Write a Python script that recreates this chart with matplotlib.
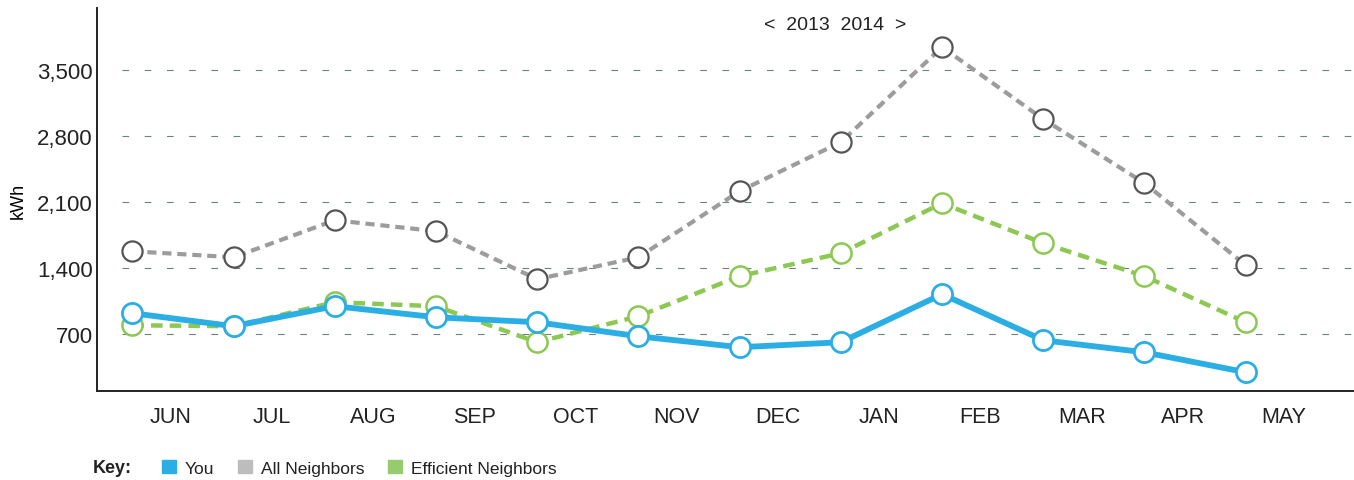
import matplotlib.pyplot as plt
import matplotlib as mpl
from matplotlib.patches import Patch

mpl.rcParams.update({
    "font.family": ["Liberation Sans", "DejaVu Sans"],
    "font.size": 14,
    "text.color": "#222222",
    "xtick.color": "#222222",
    "ytick.color": "#222222",
})

months = ["JUN", "JUL", "AUG", "SEP", "OCT", "NOV", "DEC", "JAN", "FEB", "MAR", "APR", "MAY"]
you = [916, 778, 991, 873, 820, 671, 555, 608, 1118, 629, 501, 289]
all_neighbors = [1574, 1510, 1903, 1787, 1277, 1510, 2212, 2732, 3741, 2977, 2297, 1426]
efficient = [788, 778, 1033, 990, 608, 884, 1309, 1553, 2084, 1659, 1309, 820]
yticks = [700, 1400, 2100, 2800, 3500]

BLUE = "#2aaee4"
GRAY = "#9c9c9c"
GREEN = "#8cc852"

fig = plt.figure(figsize=(13.54, 4.81), dpi=100)
ax = fig.add_axes([0.0716, 0.185, 0.9284, 0.796])

x = list(range(len(months)))
ax.set_xlim(-0.35, 12.07)
ax.set_ylim(90, 4155)

# dashed grid lines starting a little right of the axis
ax.hlines(yticks, -0.1, 12.07, colors="#6f8080", linewidth=0.8,
          linestyles=(0, (6, 14)), zorder=1)

ax.plot(x, all_neighbors, color=GRAY, lw=3, dashes=(2.2, 1.4),
        marker="o", ms=14.5, mfc="white", mec="#555555", mew=1.6, zorder=3)
ax.plot(x, efficient, color=GREEN, lw=3.2, dashes=(2.6, 1.6),
        marker="o", ms=14.5, mfc="white", mec=GREEN, mew=1.8, zorder=4)
ax.plot(x, you, color=BLUE, lw=4.2, solid_capstyle="round",
        marker="o", ms=14.5, mfc="white", mec=BLUE, mew=2, zorder=5)

ax.set_yticks(yticks)
ax.set_yticklabels([f"{v:,}" for v in yticks])
ax.set_xticks([i + 0.38 for i in x])
ax.set_xticklabels(months)
ax.tick_params(axis="both", length=0)
ax.tick_params(axis="y", labelsize=16, pad=3)
ax.tick_params(axis="x", labelsize=15.5, pad=11)
ax.set_ylabel("kWh", fontsize=13)
ax.yaxis.set_label_coords(-0.056, 0.5)

for s in ["top", "right"]:
    ax.spines[s].set_visible(False)
for s in ["left", "bottom"]:
    ax.spines[s].set_color("#222222")
    ax.spines[s].set_linewidth(1.4)

fig.text(835 / 1354, 1 - 25 / 481, "<  2013  2014  >", ha="center", va="center", fontsize=14)

fig.text(93 / 1354, 1 - 469 / 481, "Key:", ha="left", va="center", fontsize=13, fontweight="bold")
handles = [Patch(color=BLUE, label="You"),
           Patch(color="#bdbdbd", label="All Neighbors"),
           Patch(color="#97cc6e", label="Efficient Neighbors")]
fig.legend(handles=handles, loc="center left", bbox_to_anchor=(146 / 1354, 1 - 469 / 481),
           ncol=3, frameon=False, fontsize=12.5, handlelength=0.8, handleheight=0.8,
           handletextpad=0.5, columnspacing=1.4)

fig.savefig("out.png", dpi=100)
